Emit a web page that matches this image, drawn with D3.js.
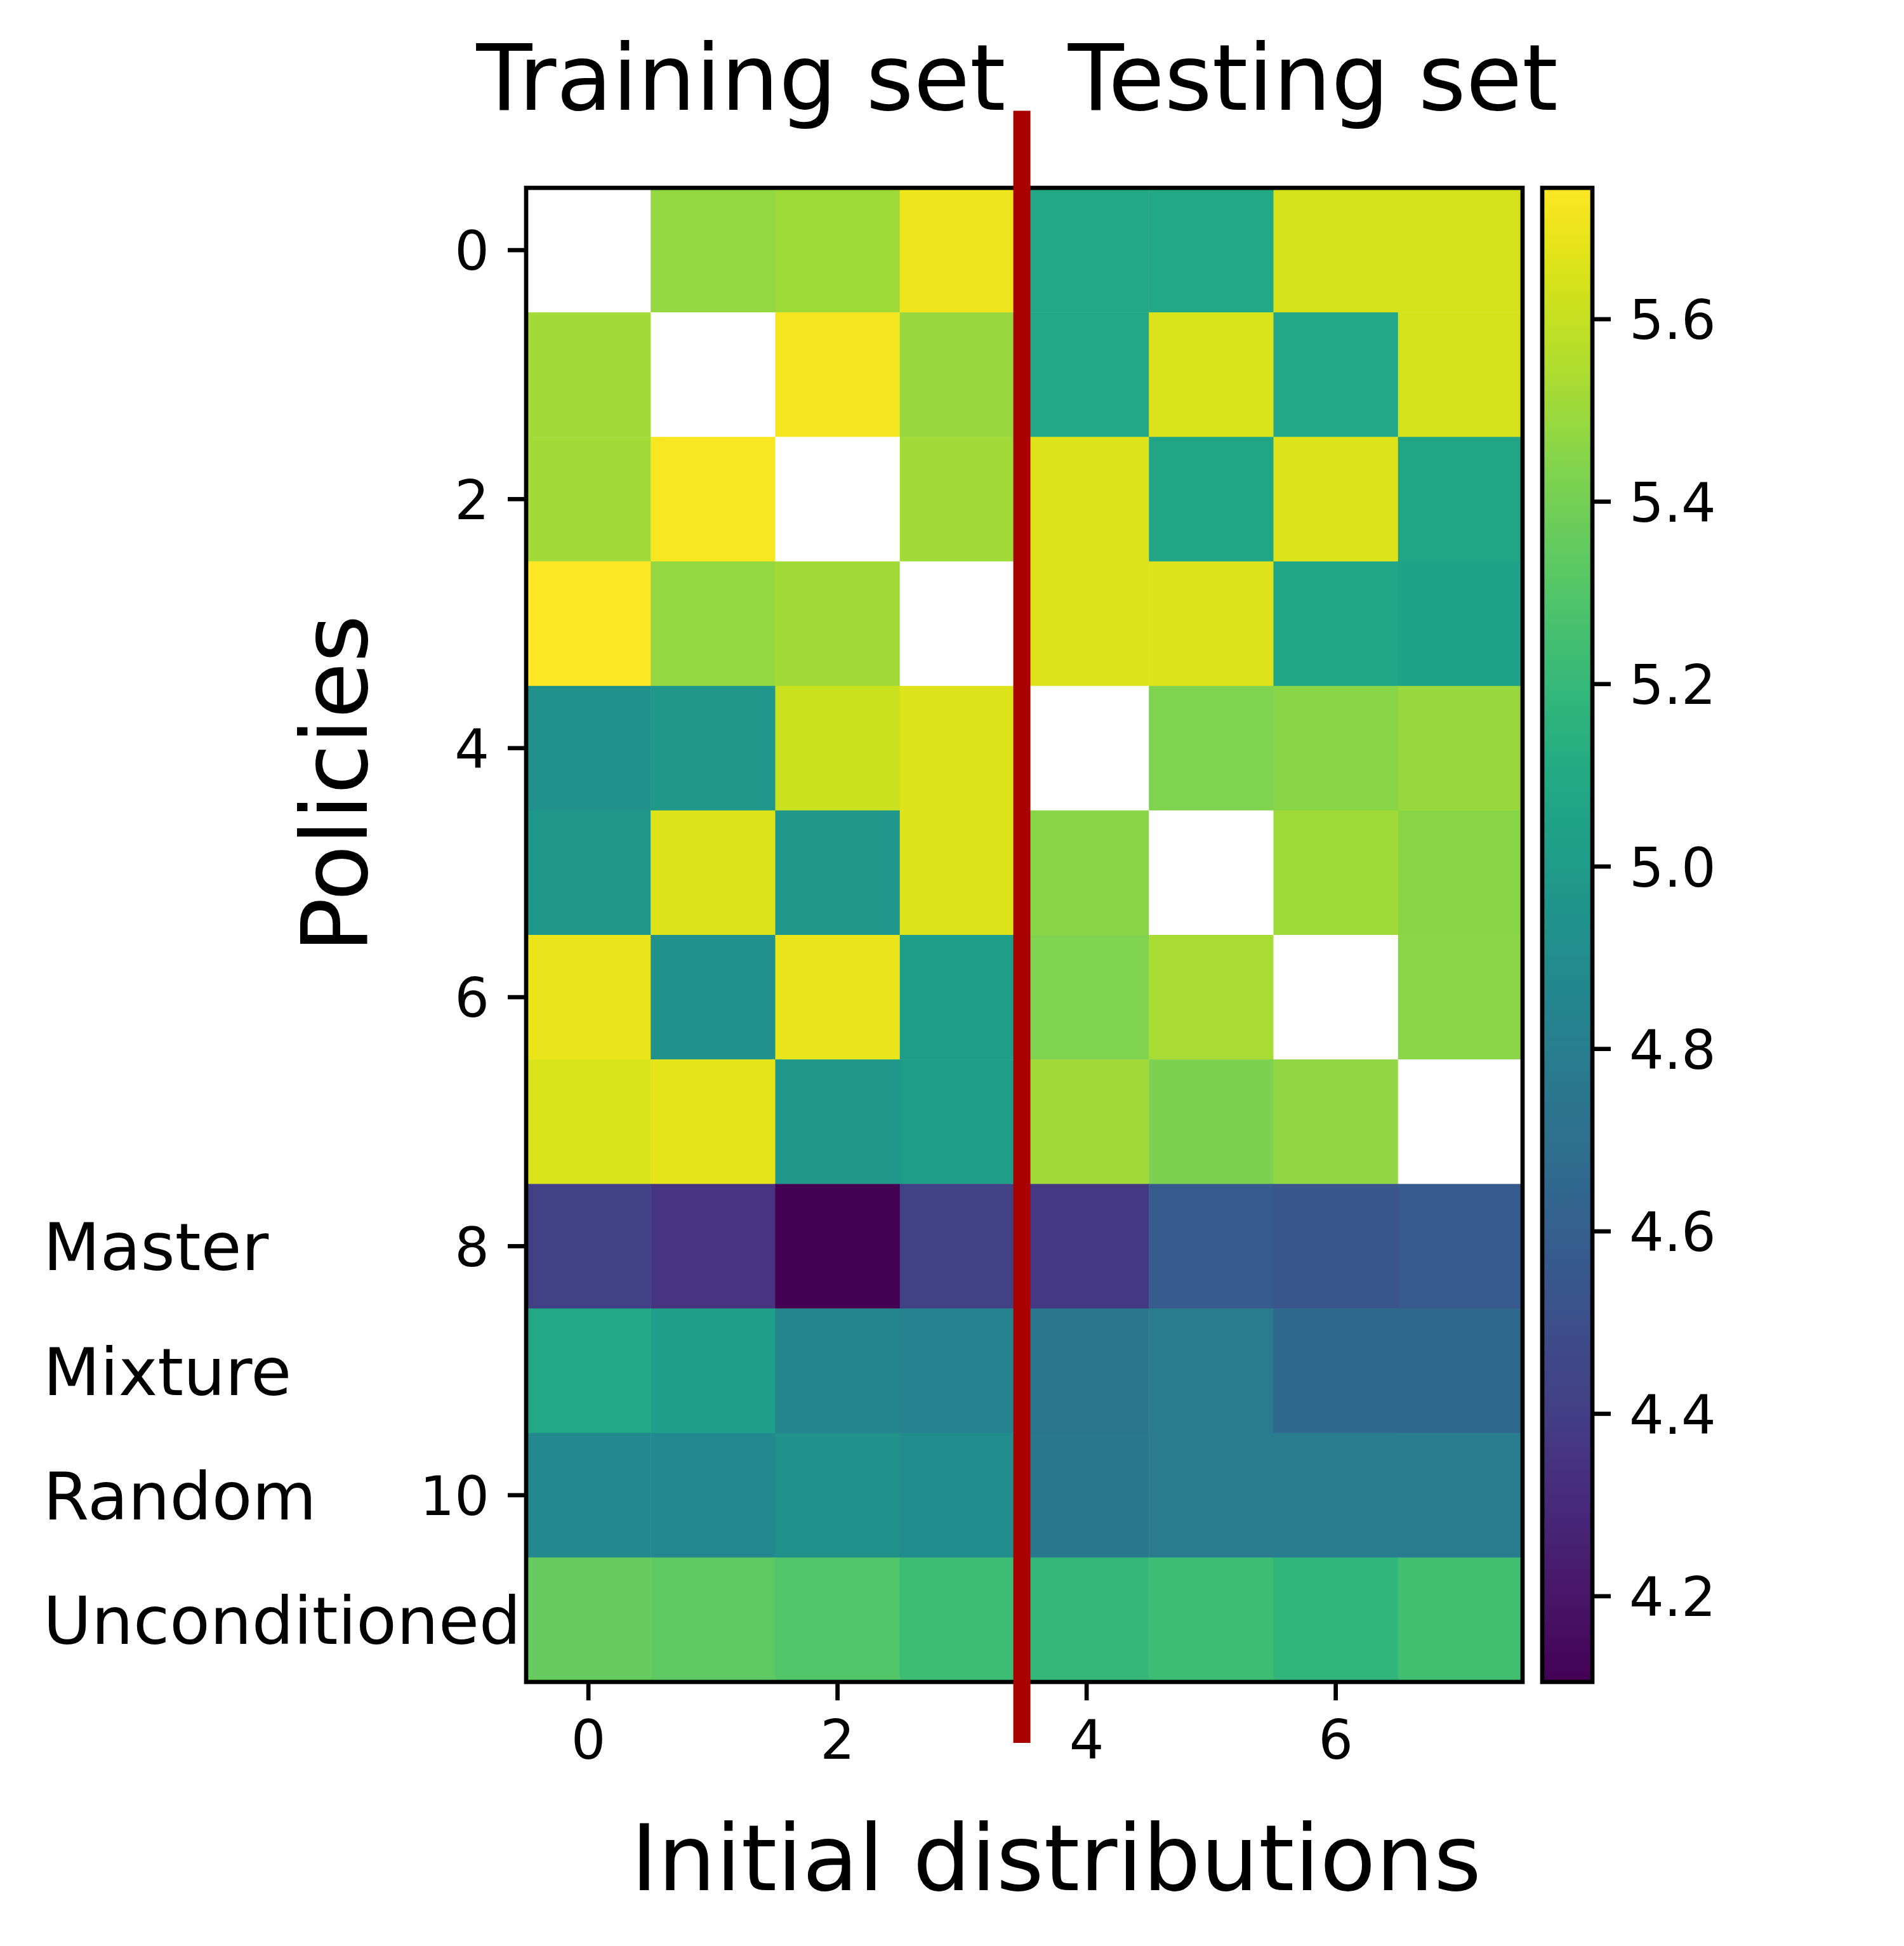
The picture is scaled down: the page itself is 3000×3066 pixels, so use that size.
<!DOCTYPE html>
<html>
<head>
<meta charset="utf-8">
<script src="https://cdn.jsdelivr.net/npm/d3@7"></script>
<style>
	body { margin: 0; background: #fff; }
	text { font-family: "DejaVu Sans", sans-serif; fill: #000; }
</style>
</head>
<body>
<div id="chart"></div>
<script>
var d3 = window.d3;

// initial distributions (columns) and policies (rows)
var distributions = [0, 1, 2, 3, 4, 5, 6, 7];
var policies = [0, 1, 2, 3, 4, 5, 6, 7, 8, 9, 10, 11];

// reward of each policy on each initial distribution, null = not evaluated
var row0 = [null, 5.48, 5.51, 5.70, 5.09, 5.09, 5.64, 5.64];
var row1 = [5.52, null, 5.72, 5.49, 5.09, 5.65, 5.09, 5.64];
var row2 = [5.52, 5.73, null, 5.52, 5.66, 5.07, 5.66, 5.07];
var row3 = [5.744, 5.48, 5.52, null, 5.66, 5.66, 5.07, 5.05];
var row4 = [4.93, 4.98, 5.61, 5.66, null, 5.43, 5.45, 5.49];
var row5 = [4.97, 5.66, 4.97, 5.66, 5.45, null, 5.51, 5.45];
var row6 = [5.69, 4.93, 5.69, 5.01, 5.43, 5.53, null, 5.46];
var row7 = [5.65, 5.68, 4.98, 5.01, 5.52, 5.42, 5.47, null];
var masterRow = [4.42, 4.35, 4.106, 4.42, 4.37, 4.57, 4.54, 4.57];
var mixtureRow = [5.09, 5.02, 4.85, 4.83, 4.75, 4.79, 4.66, 4.655];
var randomRow = [4.88, 4.88, 4.925, 4.90, 4.76, 4.79, 4.795, 4.795];
var uncondRow = [5.36, 5.34, 5.30, 5.23, 5.19, 5.23, 5.18, 5.25];

var xTicks = [0, 2, 4, 6];
var yTicks = [0, 2, 4, 6, 8, 10];
var cbTicks = [4.2, 4.4, 4.6, 4.8, 5.0, 5.2, 5.4, 5.6];

var baselineNames = ["Master", "Mixture", "Random", "Unconditioned"];
var baselineRows = [8, 9, 10, 11];

var titles = ["Training set", "Testing set"];
var splitAt = 3.48;

var rows = [row0, row1, row2, row3, row4, row5, row6, row7,
	masterRow, mixtureRow, randomRow, uncondRow];

// --------- layout --------- //
var W = 3000, H = 3066;
var plot = {left: 829, top: 296, width: 1570, height: 2354};
var cb = {left: 2430, width: 79};
var spine = 6.7, tickLen = 29, pad = 29;
var tickFont = 86, bigFont = 144, nameFont = 104;

var svg = d3.select("#chart").append("svg")
	.attr("width", W)
	.attr("height", H);

var x = d3.scaleLinear()
	.domain([-0.5, distributions.length - 0.5])
	.range([plot.left, plot.left + plot.width]);

var y = d3.scaleLinear()
	.domain([-0.5, policies.length - 0.5])
	.range([plot.top, plot.top + plot.height]);

var allVals = [];
rows.forEach(function(r){ r.forEach(function(v){ if (v != null) allVals.push(v); }); });
var ext = d3.extent(allVals);

var color = d3.scaleSequential(d3.interpolateViridis).domain(ext);

// cells
var cells = [];
rows.forEach(function(r, i){
	r.forEach(function(v, j){
		cells.push({row: policies[i], col: distributions[j], value: v});
	});
});

svg.append("g").selectAll("rect")
	.data(cells)
	.enter().append("rect")
	.attr("x", function(d){ return x(d.col - 0.5); })
	.attr("y", function(d){ return y(d.row - 0.5); })
	.attr("width", x(1) - x(0) + 0.5)
	.attr("height", y(1) - y(0) + 0.5)
	.attr("fill", function(d){ return d.value == null ? "#ffffff" : color(d.value); });

// frame
svg.append("rect")
	.attr("x", plot.left)
	.attr("y", plot.top)
	.attr("width", plot.width)
	.attr("height", plot.height)
	.attr("fill", "none")
	.attr("stroke", "#000")
	.attr("stroke-width", spine);

// y ticks
var yt = svg.append("g").selectAll("g")
	.data(yTicks)
	.enter().append("g");
yt.append("line")
	.attr("x1", plot.left - tickLen)
	.attr("x2", plot.left)
	.attr("y1", function(d){ return y(d); })
	.attr("y2", function(d){ return y(d); })
	.attr("stroke", "#000")
	.attr("stroke-width", spine);
yt.append("text")
	.attr("x", plot.left - tickLen - pad)
	.attr("y", function(d){ return y(d) + tickFont * 0.365; })
	.attr("text-anchor", "end")
	.attr("font-size", tickFont)
	.text(function(d){ return d; });

// x ticks
var xt = svg.append("g").selectAll("g")
	.data(xTicks)
	.enter().append("g");
xt.append("line")
	.attr("x1", function(d){ return x(d); })
	.attr("x2", function(d){ return x(d); })
	.attr("y1", plot.top + plot.height)
	.attr("y2", plot.top + plot.height + tickLen)
	.attr("stroke", "#000")
	.attr("stroke-width", spine);
xt.append("text")
	.attr("x", function(d){ return x(d); })
	.attr("y", plot.top + plot.height + tickLen + pad + tickFont * 0.73)
	.attr("text-anchor", "middle")
	.attr("font-size", tickFont)
	.text(function(d){ return d; });

// baseline policy names on the far left
svg.append("g").selectAll("text")
	.data(baselineNames)
	.enter().append("text")
	.attr("x", 68)
	.attr("y", function(d, i){ return y(baselineRows[i]) + 38; })
	.attr("font-size", nameFont)
	.text(function(d){ return d; });

// --------- colorbar --------- //
var cy = d3.scaleLinear()
	.domain(ext)
	.range([plot.top + plot.height, plot.top]);

var grad = svg.append("defs").append("linearGradient")
	.attr("id", "cbgrad")
	.attr("x1", 0).attr("x2", 0)
	.attr("y1", 1).attr("y2", 0);
grad.selectAll("stop")
	.data(d3.range(0, 1.0001, 0.02))
	.enter().append("stop")
	.attr("offset", function(d){ return d; })
	.attr("stop-color", function(d){ return d3.interpolateViridis(d); });

svg.append("rect")
	.attr("x", cb.left)
	.attr("y", plot.top)
	.attr("width", cb.width)
	.attr("height", plot.height)
	.attr("fill", "url(#cbgrad)")
	.attr("stroke", "#000")
	.attr("stroke-width", spine);

var ct = svg.append("g").selectAll("g")
	.data(cbTicks)
	.enter().append("g");
ct.append("line")
	.attr("x1", cb.left + cb.width)
	.attr("x2", cb.left + cb.width + tickLen)
	.attr("y1", function(d){ return cy(d); })
	.attr("y2", function(d){ return cy(d); })
	.attr("stroke", "#000")
	.attr("stroke-width", spine);
ct.append("text")
	.attr("x", cb.left + cb.width + tickLen + pad)
	.attr("y", function(d){ return cy(d) + tickFont * 0.365; })
	.attr("font-size", tickFont)
	.text(function(d){ return d3.format(".1f")(d); });

// --------- split line + titles --------- //
svg.append("line")
	.attr("x1", x(splitAt))
	.attr("x2", x(splitAt))
	.attr("y1", y(-1.12))
	.attr("y2", y(11.99))
	.attr("stroke", "#aa0000")
	.attr("stroke-width", 27);

svg.append("text")
	.attr("x", x(splitAt - 0.13))
	.attr("y", 173)
	.attr("text-anchor", "end")
	.attr("font-size", bigFont)
	.text(titles[0]);

svg.append("text")
	.attr("x", x(splitAt + 0.37))
	.attr("y", 173)
	.attr("text-anchor", "start")
	.attr("font-size", bigFont)
	.text(titles[1]);

// axis labels
svg.append("text")
	.attr("x", 1664)
	.attr("y", 2978)
	.attr("text-anchor", "middle")
	.attr("font-size", bigFont)
	.text("Initial distributions");

svg.append("text")
	.attr("transform", "translate(578,1235) rotate(-90)")
	.attr("text-anchor", "middle")
	.attr("font-size", bigFont)
	.text("Policies");
</script>
</body>
</html>
